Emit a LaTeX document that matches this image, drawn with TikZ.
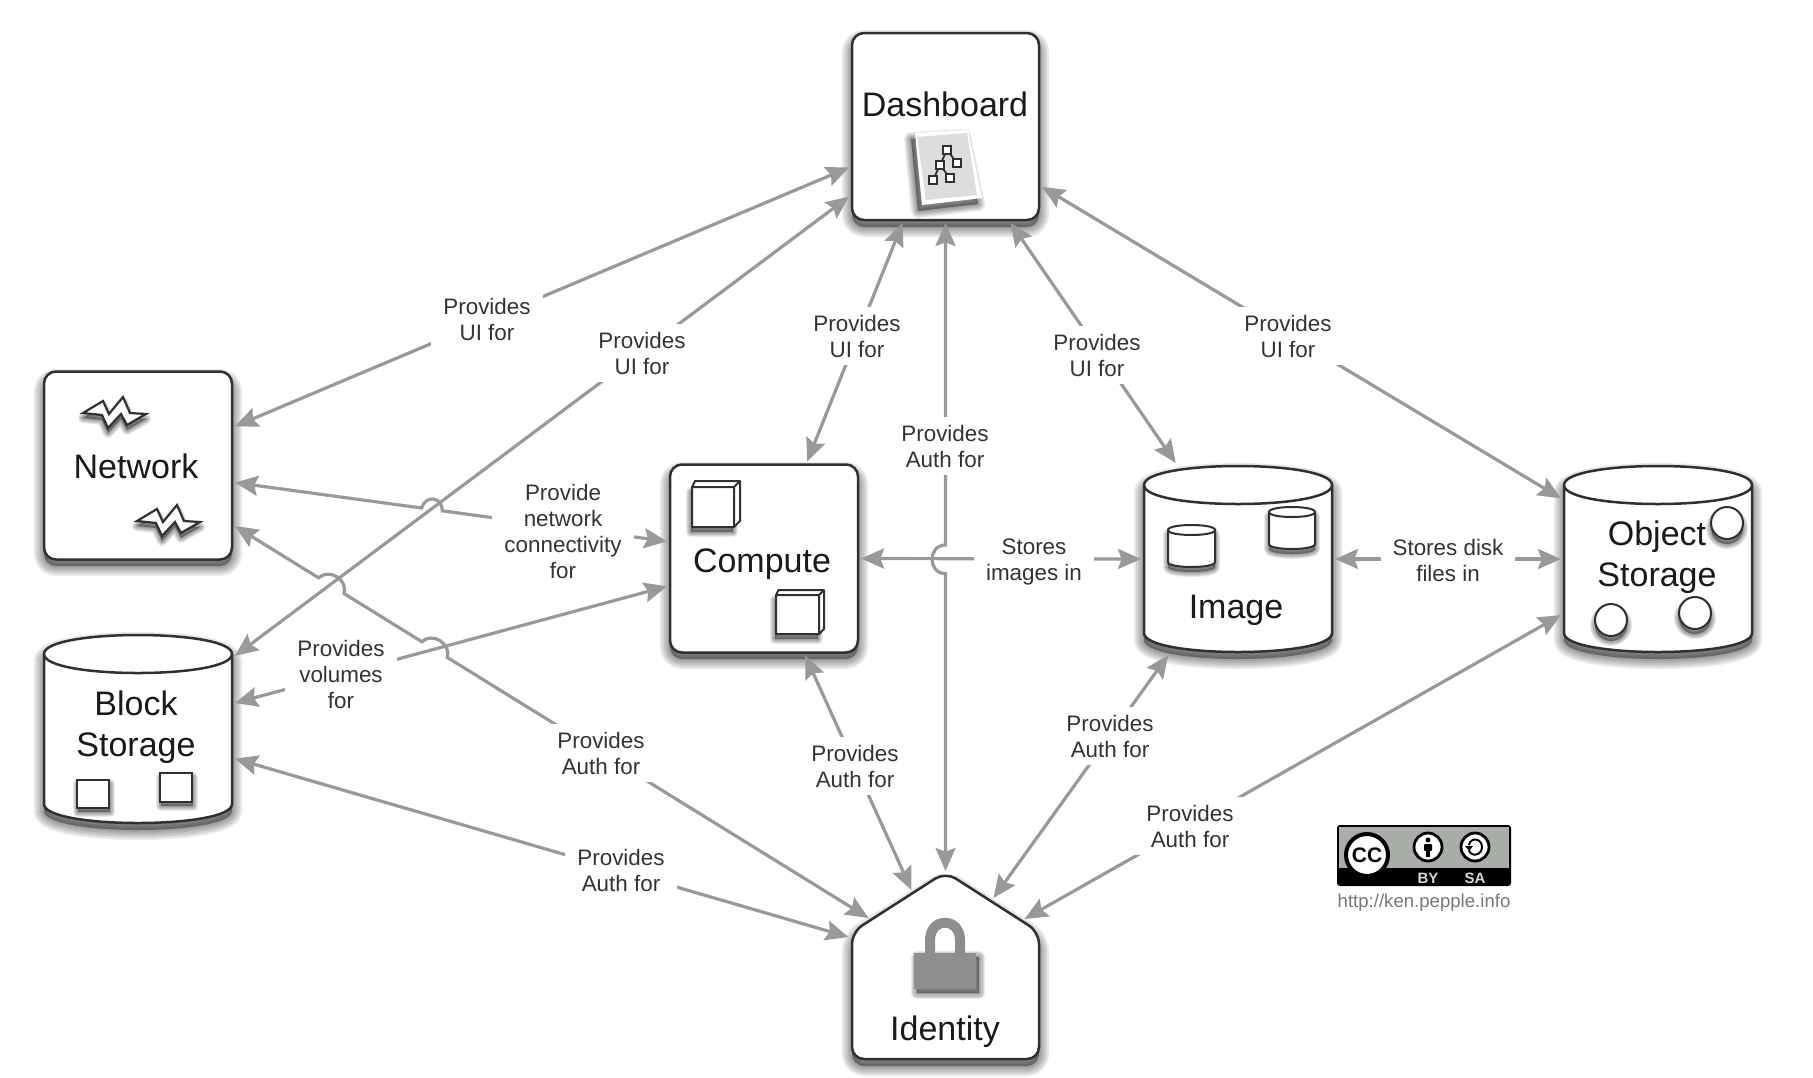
\documentclass[tikz,border=0pt]{standalone}
\usepackage{fontspec}
\setmainfont{Liberation Sans}
\usetikzlibrary{arrows.meta,calc}
\definecolor{linkgrey}{HTML}{999999}
\definecolor{boxline}{HTML}{303030}
\definecolor{labelink}{HTML}{333333}
\definecolor{titleink}{HTML}{1A1A1A}
\definecolor{lockgrey}{HTML}{8E8E8E}
\definecolor{sheetgrey}{HTML}{DDDDDD}
\definecolor{badgegrey}{HTML}{A9ADA7}
\definecolor{urlgrey}{HTML}{777777}
\tikzset{
  hub/.style={draw=boxline,fill=white,line width=1.25pt,rounded corners=6pt,minimum width=94pt,minimum height=94pt,inner sep=0pt,outer sep=1.5pt},
  drum/.style={minimum width=94pt,minimum height=93pt,inner sep=0pt,outer sep=1.5pt},
  outline/.style={draw=boxline,fill=white,line width=1.25pt},
  smallshape/.style={draw=boxline,fill=white,line width=1pt},
  link/.style={draw=linkgrey,line width=1.6pt,{Stealth[length=11.5pt,width=10pt,inset=1.8pt]}-{Stealth[length=11.5pt,width=10pt,inset=1.8pt]}},
  lbl/.style={fill=white,text=labelink,align=center,inner xsep=6pt,inner ysep=4pt,font=\fontsize{11.2}{13}\selectfont},
  title/.style={text=titleink,align=center,inner sep=0pt,font=\fontsize{17}{20.8}\selectfont},
}
% soft drop shadow: offset, spread in pt, path
\newcommand{\softshadow}[3][0,7]{%
  \foreach \f in {1,0.8,0.6,0.4,0.2}{
    \path[shift={(#1)},fill=black,draw=black,fill opacity=0.085,draw opacity=0.085,line width=\f*#2,line join=round] #3;
  }%
}
% drum outline: left, right, top, bottom, cap height
\newcommand{\drumpath}[5]{(#1,{#3+#5}) -- (#1,{#4-#5}) .. controls (#1,{#4+#5/3}) and (#2,{#4+#5/3}) .. (#2,{#4-#5}) -- (#2,{#3+#5}) .. controls (#2,{#3-#5/3}) and (#1,{#3-#5/3}) .. (#1,{#3+#5}) -- cycle}
\newcommand{\drumshape}[6][outline]{%
  \path[#1] \drumpath{#2}{#3}{#4}{#5}{#6};
  \draw[#1,fill=none] (#2,{#4+#6}) .. controls (#2,{#4+#6*7/3}) and (#3,{#4+#6*7/3}) .. (#3,{#4+#6});
}
% spark glyph anchored at its left tip
\newcommand{\sparkpath}[2]{(#1,#2) -- ++(20,-12) -- ++(6,13) -- ++(14,-17) -- ++(7,16) -- ++(16,1) -- ++(-19,11) -- ++(-6,-11) -- ++(-13,14) -- ++(-6,-13) -- cycle}
% cube: front left, front top, front right, front bottom, depth
\newcommand{\cubeshape}[5]{%
  \softshadow[-1,5]{5pt}{(#1,#2) rectangle (#3,#4)}
  \draw[smallshape,line join=round] (#1,#2) -- ({#1+#5/2},{#2-#5}) -- ({#3+#5},{#2-#5}) -- ({#3+#5},{#4-#5}) -- (#3,#4) -- (#1,#4) -- cycle;
  \draw[boxline,line width=1pt] (#1,#2) -- (#3,#2) -- (#3,#4) (#3,#2) -- ({#3+#5},{#2-#5});
}
\begin{document}
\begin{tikzpicture}[x=0.5pt,y=-0.5pt]
\useasboundingbox (0,0) rectangle (1813,1077);

% --- rounded boxes ---
\softshadow{10pt}{[rounded corners=6pt] (852,33) rectangle (1039,220)}
\softshadow{10pt}{[rounded corners=6pt] (44,372) rectangle (232,559)}
\softshadow{10pt}{[rounded corners=6pt] (670,465) rectangle (858,652)}
\node[hub,minimum width=93.5pt,minimum height=93.5pt] (dash) at (945.5,126.5) {};
\node[hub] (net) at (138,465.5) {};
\node[hub] (comp) at (764,558.5) {};

% --- storage drums ---
\softshadow{10pt}{\drumpath{44}{232}{635}{823}{19}}
\softshadow{10pt}{\drumpath{1144}{1332}{466}{652}{19}}
\softshadow{10pt}{\drumpath{1564}{1752}{466}{652}{19}}
\drumshape{44}{232}{635}{823}{19}
\drumshape{1144}{1332}{466}{652}{19}
\drumshape{1564}{1752}{466}{652}{19}
\node[drum] (block) at (138,729) {};
\node[drum] (image) at (1238,559) {};
\node[drum] (object) at (1658,559) {};

% --- identity house ---
\softshadow{10pt}{[rounded corners=6pt] (945.5,873) -- (1039,932) -- (1039,1059) -- (852,1059) -- (852,932) -- cycle}
\draw[outline,rounded corners=6pt] (945.5,872) -- (1039,932) -- (1039,1059) -- (852,1059) -- (852,932) -- cycle;
\node[drum,outer sep=0pt] (ident) at (945.5,966) {};
\coordinate (roofA) at ($(ident.north west)+(-3,64)$);
\coordinate (roofB) at ($(ident.north west)+(17,45)$);
\coordinate (roofC) at ($(ident.north west)+(60,17)$);
\coordinate (roofD) at ($(ident.north)+(0,-2)$);
\coordinate (roofE) at ($(ident.north east)+(-46,25)$);
\coordinate (roofF) at ($(ident.north east)+(-15,46)$);

% --- connectors ---
\draw[link] (dash.203) -- (net.22.7);
\draw[link] (dash.216.5) -- (block.37.2);
\draw[link] (dash.246.7) -- (comp.66.5);
\draw[link] (dash.304) -- (image.123.4);
\draw[link] (dash.328.2) -- (object.148.7);
\draw[link] (dash.270)
  -- ($(dash.270)!0.497!(roofD)$)
  .. controls ($(dash.270)!0.497!(roofD)!9pt!-90:(roofD)$) and ($(dash.270)!0.541!(roofD)!9pt!-90:(roofD)$) .. ($(dash.270)!0.541!(roofD)$)
  -- (roofD);
\draw[link] (net.350.35)
  -- ($(net.350.35)!0.432!(comp.170.8)$)
  .. controls ($(net.350.35)!0.437!(comp.170.8)!7pt!90:(comp.170.8)$) and ($(net.350.35)!0.475!(comp.170.8)!7pt!90:(comp.170.8)$) .. ($(net.350.35)!0.48!(comp.170.8)$)
  -- (comp.170.8);
\draw[link] (net.328.5)
  -- ($(net.328.5)!0.132!(roofB)$)
  .. controls ($(net.328.5)!0.137!(roofB)!7pt!90:(roofB)$) and ($(net.328.5)!0.167!(roofB)!7pt!90:(roofB)$) .. ($(net.328.5)!0.172!(roofB)$)
  -- ($(net.328.5)!0.295!(roofB)$)
  .. controls ($(net.328.5)!0.30!(roofB)!7pt!90:(roofB)$) and ($(net.328.5)!0.33!(roofB)!7pt!90:(roofB)$) .. ($(net.328.5)!0.335!(roofB)$)
  -- (roofB);
\draw[link] (comp.196.5) -- (block.15.6);
\draw[link] (block.343.3) -- (roofA);
\draw[link] (comp.293.8) -- (roofC);
\draw[link] (image.234.3) -- (roofE);
\draw[link] (object.210) -- (roofF);
\draw[link] (comp.0) -- (image.180);
\draw[link] (image.0) -- (object.180);

% --- connector labels ---
\node[lbl] (lNetUI) at (487,319) {Provides\\UI for};
\node[lbl] (lBlockUI) at (642,353) {Provides\\UI for};
\node[lbl] (lCompUI) at (857,336) {Provides\\UI for};
\node[lbl] (lImageUI) at (1097,355) {Provides\\UI for};
\node[lbl] (lObjUI) at (1288,336) {Provides\\UI for};
\node[lbl] (lDashAuth) at (945,446) {Provides\\Auth for};
\node[lbl] (lConn) at (563,531) {Provide\\network\\connectivity\\for};
\node[lbl] (lVol) at (341,674) {Provides\\volumes\\for};
\node[lbl] (lNetAuth) at (601,753) {Provides\\Auth for};
\node[lbl] (lBlockAuth) at (621,870) {Provides\\Auth for};
\node[lbl] (lCompAuth) at (855,766) {Provides\\Auth for};
\node[lbl] (lImageAuth) at (1110,736) {Provides\\Auth for};
\node[lbl] (lObjAuth) at (1190,826) {Provides\\Auth for};
\node[lbl] (lImages) at (1034,562) {Stores\\images in};
\node[lbl] (lDisk) at (1448,560) {Stores disk\\files in};

% --- titles ---
\node[title] (tDash) at (945,104) {Dashboard};
\node[title] (tNet) at (136,466) {Network};
\node[title] (tComp) at (762,564) {Compute};
\node[title] (tImage) at (1236,610) {Image};
\node[title] (tObj) at (1657,557) {Object\\Storage};
\node[title] (tBlock) at (136,727) {Block\\Storage};
\node[title] (tIdent) at (945,1032) {Identity};

% --- dashboard sheet icon ---
\softshadow[-4,6]{7pt}{(915,133) -- (968,130) -- (982,198) -- (922,205) -- cycle}
\fill[white] (915,133) -- (968,130) -- (982,198) -- (922,205) -- cycle;
\fill[sheetgrey] (917,137) -- (967,133) -- (977,195) -- (926,200) -- cycle;
\draw[boxline,line width=0.9pt] (947,150) -- (940,165) -- (933,180) (947,150) -- (957,163) (940,165) -- (950,178);
\foreach \px/\py in {947/150,957/163,940/165,950/178,933/180}
  \draw[boxline,fill=white,line width=0.9pt] (\px-4,\py-4) rectangle (\px+4,\py+4);

% --- network sparks ---
\softshadow[0,5]{5pt}{\sparkpath{83}{413}}
\draw[smallshape,line width=1.1pt,line join=miter] \sparkpath{83}{413};
\softshadow[0,5]{5pt}{\sparkpath{137}{521}}
\draw[smallshape,line width=1.1pt,line join=miter] \sparkpath{137}{521};

% --- compute cubes ---
\cubeshape{692}{487}{734}{527}{6}
\cubeshape{776}{595}{819}{634}{5}

% --- block squares ---
\softshadow[1,4]{5pt}{(77,780) rectangle (109,808)}
\draw[smallshape,line width=1.2pt] (77,780) rectangle (109,808);
\softshadow[1,4]{5pt}{(160,773) rectangle (192,802)}
\draw[smallshape,line width=1.2pt] (160,773) rectangle (192,802);

% --- image small drums ---
\softshadow[0,5]{5pt}{\drumpath{1168}{1215}{525}{567}{5}}
\drumshape[smallshape]{1168}{1215}{525}{567}{5}
\softshadow[0,5]{5pt}{\drumpath{1269}{1315}{507}{549}{5}}
\drumshape[smallshape]{1269}{1315}{507}{549}{5}

% --- object circles ---
\foreach \cx/\cy in {1727/523,1611/620,1695/613}{
  \softshadow[0,5]{5pt}{(\cx,\cy) circle[radius=16]}
  \draw[smallshape] (\cx,\cy) circle[radius=16];
}

% --- identity padlock ---
\softshadow[3,4]{6pt}{(914,953) rectangle (976,989)}
\draw[lockgrey,line width=5pt] (930,955) -- (930,940) .. controls (930,917) and (960,917) .. (960,940) -- (960,955);
\fill[lockgrey] (914,953) rectangle (976,989);

% --- licence badge ---
\fill[black,rounded corners=1.5pt] (1337,825) rectangle (1511,886);
\fill[badgegrey] (1339,827) rectangle (1509,868);
\fill[black] (1339,868) rectangle (1360,884);
\node[draw=black,fill=white,circle,line width=2pt,minimum size=21pt,inner sep=0pt,font=\bfseries\fontsize{10.5}{12}\selectfont] (ccMark) at (1367,855) {CC};
\node[draw=black,fill=white,circle,line width=1.4pt,minimum size=14pt,inner sep=0pt] (byMark) at (1428,847) {};
\fill[black] (1428,840) circle[radius=2.5];
\fill[black,rounded corners=0.5pt] (1424,844) rectangle (1432,851);
\fill[black] (1426,851) rectangle (1430,857);
\node[draw=black,fill=white,circle,line width=1.4pt,minimum size=14pt,inner sep=0pt] (saMark) at (1475,847) {};
\draw[black,line width=1pt] (1469,845) .. controls (1470,837) and (1482,838) .. (1482,847) .. controls (1482,856) and (1470,857) .. (1469,850);
\fill[black] (1465,846) -- (1473,846) -- (1469,851) -- cycle;
\node[text=white!85!black,inner sep=0pt,font=\bfseries\fontsize{7.5}{8}\selectfont] (byText) at (1428,878) {BY};
\node[text=white!85!black,inner sep=0pt,font=\bfseries\fontsize{7.5}{8}\selectfont] (saText) at (1475,878) {SA};
\node[text=urlgrey,inner sep=0pt,font=\fontsize{9.3}{11}\selectfont] (url) at (1424,903) {http://ken.pepple.info};
\end{tikzpicture}
\end{document}
